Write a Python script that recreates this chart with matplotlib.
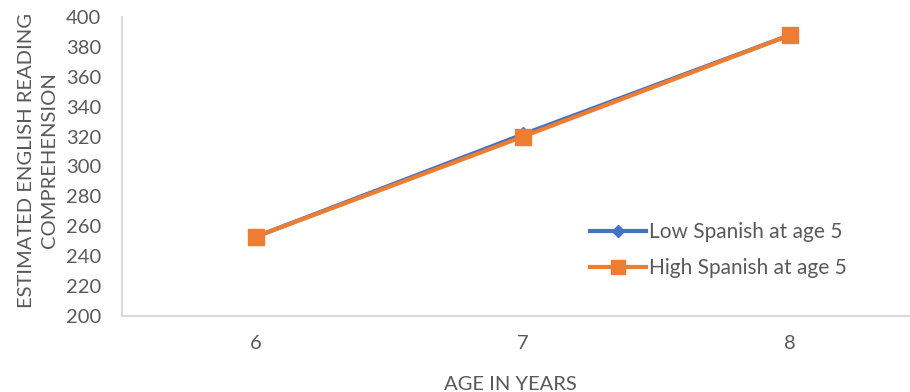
import matplotlib.pyplot as plt

# data
ages = [6, 7, 8]
low_spanish = [253, 321.5, 388]
high_spanish = [253, 320, 388]
y_ticks = [200, 220, 240, 260, 280, 300, 320, 340, 360, 380, 400]

plt.rcParams['font.family'] = ['Lato', 'DejaVu Sans']

fig = plt.figure(figsize=(9.1, 3.92), dpi=100)
# plot area runs past the right edge of the image, as in the reference
ax = fig.add_axes([122/910, 76/392, 802/910, 299/392])

ax.plot(ages, low_spanish, '-', color='#4472C4', lw=3, marker='D', ms=7,
        label='Low Spanish at age 5')
ax.plot(ages, high_spanish, '-', color='#ED7D31', lw=3, marker='s', ms=12,
        label='High Spanish at age 5')

ax.set_xlim(5.5, 8.5)
ax.set_ylim(200, 400)
ax.set_xticks(ages)
ax.set_yticks(y_ticks)
ax.tick_params(length=0, labelsize=14.5, colors='#595959')
ax.tick_params(axis='y', pad=15)
ax.tick_params(axis='x', pad=14)

for side in ['top', 'right']:
    ax.spines[side].set_visible(False)
for side in ['left', 'bottom']:
    ax.spines[side].set_color('#d9d9d9')
    ax.spines[side].set_linewidth(1.5)

ax.set_ylabel('ESTIMATED ENGLISH READING\nCOMPREHENSION', fontsize=14.5,
              color='#595959', linespacing=1.45)
ax.yaxis.set_label_coords(-0.08, 0.52)
ax.set_xlabel('AGE IN YEARS', fontsize=14.5, color='#595959')
ax.xaxis.set_label_coords(388/802, -0.2)

leg = ax.legend(loc='center left', bbox_to_anchor=(449/802, 0.22), frameon=False,
                fontsize=15, labelcolor='#595959', handlelength=2.7,
                handletextpad=0.15, labelspacing=0.75, markerscale=0.85)

fig.savefig('out.png', dpi=100)
